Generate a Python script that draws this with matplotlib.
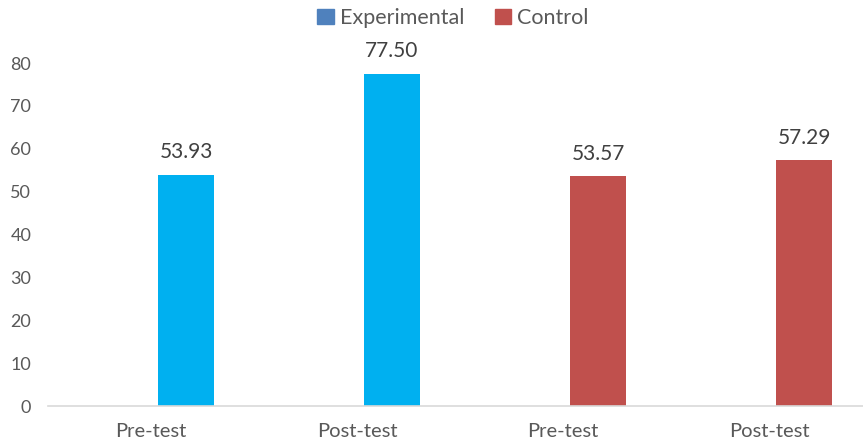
import matplotlib.pyplot as plt
from matplotlib.patches import Patch

categories = ["Pre-test", "Post-test", "Pre-test", "Post-test"]
groups = ["Experimental", "Experimental", "Control", "Control"]
values = [53.93, 77.50, 53.57, 57.29]
y_ticks = [0, 10, 20, 30, 40, 50, 60, 70, 80]

bar_colors = {"Experimental": "#00B0F0", "Control": "#C0504D"}
legend_colors = {"Experimental": "#4F81BD", "Control": "#C0504D"}
text_gray = "#595959"

plt.rcParams["font.family"] = ["Lato", "DejaVu Sans"]

fig = plt.figure(figsize=(8.63, 4.48), dpi=100)
W, H = 863, 448
left, right, bottom, top = 48, 872, 406, 63
ax = fig.add_axes([left / W, 1 - bottom / H, (right - left) / W, (bottom - top) / H])

x = list(range(len(categories)))
offset, width = 0.17, 0.27
for xi, v, g in zip(x, values, groups):
    ax.bar(xi + offset, v, width=width, color=bar_colors[g], zorder=2)
    ax.annotate(f"{v:.2f}", (xi + offset, v), xytext=(0, 9), textcoords="offset points",
                ha="center", va="bottom", fontsize=15, color="#404040")

ax.set_xlim(-0.5, len(categories) - 0.5)
ax.set_ylim(0, 80)
ax.set_yticks(y_ticks)
ax.set_xticks(x)
ax.set_xticklabels(categories, fontsize=14.5, color=text_gray)
ax.tick_params(axis="y", labelsize=13, labelcolor=text_gray, length=0, pad=12)
ax.tick_params(axis="x", length=0, pad=12)

for s in ["top", "right", "left"]:
    ax.spines[s].set_visible(False)
ax.spines["bottom"].set_color("#D9D9D9")
ax.spines["bottom"].set_linewidth(1.2)

handles = [Patch(color=legend_colors[g]) for g in ["Experimental", "Control"]]
fig.legend(handles, ["Experimental", "Control"], loc="center", bbox_to_anchor=(453 / W, 1 - 18 / H),
           ncol=2, frameon=False, fontsize=15.5, handlelength=0.75, handleheight=0.75,
           handletextpad=0.3, columnspacing=1.4, labelcolor=text_gray)

fig.savefig("out.png", dpi=100)
